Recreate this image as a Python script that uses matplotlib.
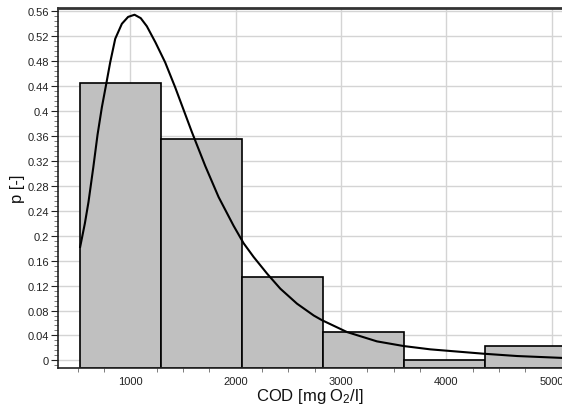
import matplotlib
matplotlib.use("Agg")
import matplotlib.pyplot as plt
from matplotlib.ticker import MultipleLocator, FuncFormatter

plt.rcParams['font.family'] = ['Liberation Sans', 'DejaVu Sans']
plt.rcParams['mathtext.fontset'] = 'custom'
plt.rcParams['mathtext.rm'] = 'Liberation Sans'
plt.rcParams['mathtext.it'] = 'Liberation Sans'

# histogram data
bin_edges = [525, 1293, 2061, 2829, 3597, 4365, 5133]
bar_heights = [0.445, 0.355, 0.134, 0.0455, 0.0, 0.0225]

# fitted density curve
curve_x = [525, 570, 604, 650, 690, 731, 772, 810, 858, 921, 980, 1041, 1100, 1158,
           1240, 1332, 1427, 1586, 1712, 1839, 1981, 2076, 2171, 2300, 2425, 2583,
           2742, 2820, 3057, 3342, 3596, 3849, 4355, 4672, 5098]
curve_y = [0.182, 0.220, 0.254, 0.310, 0.362, 0.406, 0.443, 0.478, 0.516, 0.540,
           0.551, 0.5545, 0.549, 0.536, 0.510, 0.478, 0.438, 0.366, 0.312, 0.262,
           0.216, 0.188, 0.166, 0.139, 0.115, 0.091, 0.072, 0.0645, 0.0455, 0.0305,
           0.023, 0.0177, 0.0107, 0.007, 0.004]

x_label = r'COD [mg O$_2$/l]'
y_label = 'p [-]'

fig = plt.figure(figsize=(5.62, 4.10), dpi=100)
ax = fig.add_axes([57.5 / 562, 1 - 369 / 410, 1 - 57.5 / 562, (369 - 9) / 410])

ymin, ymax = -0.0122, 0.5653
ax.set_xlim(310, 5098)
ax.set_ylim(ymin, ymax)

widths = [bin_edges[i + 1] - bin_edges[i] for i in range(len(bar_heights))]
ax.bar(bin_edges[:-1], [h - ymin for h in bar_heights], width=widths, bottom=ymin,
       align='edge', color='#c0c0c0', edgecolor='black', linewidth=1.2, zorder=2)
ax.plot(curve_x, curve_y, color='black', linewidth=1.5, zorder=3)

ax.xaxis.set_major_locator(MultipleLocator(1000))
ax.xaxis.set_minor_locator(MultipleLocator(250))
ax.yaxis.set_major_locator(MultipleLocator(0.04))
ax.yaxis.set_minor_locator(MultipleLocator(0.008))
ax.yaxis.set_major_formatter(FuncFormatter(lambda v, p: '%g' % round(v, 2)))
ax.xaxis.set_major_formatter(FuncFormatter(lambda v, p: '%d' % round(v)))

ax.grid(True, which='major', color='#d4d4d4', linewidth=1.0, zorder=0)
ax.set_axisbelow(True)

ax.tick_params(axis='x', which='major', length=0, pad=6, labelsize=8, colors='#222222')
ax.tick_params(axis='x', which='minor', length=3, color='#666666')
ax.tick_params(axis='y', which='major', length=5, pad=1, labelsize=8, colors='#222222')
ax.tick_params(axis='y', which='minor', length=3, color='#666666')

for s in ['left', 'bottom']:
    ax.spines[s].set_color('#222222')
    ax.spines[s].set_linewidth(1.2)
ax.spines['top'].set_color('#333333')
ax.spines['top'].set_linewidth(2.0)
ax.spines['right'].set_visible(False)

ax.set_xlabel(x_label, fontsize=12, labelpad=0, color='#111111')
ax.set_ylabel(y_label, fontsize=12, labelpad=2, color='#111111')

fig.savefig('out.png', dpi=100)
